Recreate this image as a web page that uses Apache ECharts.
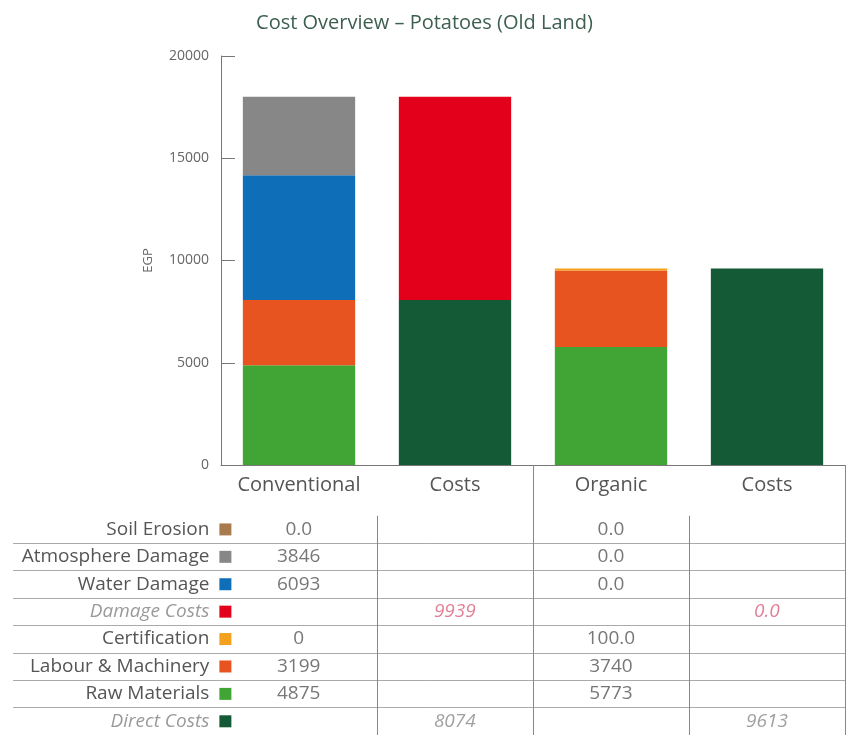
<!DOCTYPE html>
<html>
<head>
<meta charset="utf-8">
<script src="https://cdn.jsdelivr.net/npm/echarts@6/dist/echarts.min.js"></script>
<style>
  html, body { margin: 0; padding: 0; background: #fff; }
  #chart { width: 849px; height: 735px; }
</style>
</head>
<body>
<div id="chart"></div>
<script>
// bar categories
const categories = ['Conventional', 'Costs', 'Organic', 'Costs'];

// stacked series values (EGP), '-' where a series has no bar
const rawMaterials = [4875, '-', 5773, '-'];
const labour = [3199, '-', 3740, '-'];
const certification = [0, '-', 100, '-'];
const waterDamage = [6093, '-', 0, '-'];
const atmosphereDamage = [3846, '-', 0, '-'];
const soilErosion = [0, '-', 0, '-'];
const directCosts = ['-', 8074, '-', 9613];
const damageCosts = ['-', 9939, '-', 0];

// table below the chart
const rowNames = ['Soil Erosion', 'Atmosphere Damage', 'Water Damage', 'Damage Costs',
  'Certification', 'Labour & Machinery', 'Raw Materials', 'Direct Costs'];
const cellConventional = ['0.0', '3846', '6093', '', '0', '3199', '4875', ''];
const cellConvCosts = ['', '', '', '9939', '', '', '', '8074'];
const cellOrganic = ['0.0', '0.0', '0.0', '', '100.0', '3740', '5773', ''];
const cellOrgCosts = ['', '', '', '0.0', '', '', '', '9613'];

const colors = {
  'Soil Erosion': '#a87b4f',
  'Atmosphere Damage': '#878787',
  'Water Damage': '#0f6eb8',
  'Damage Costs': '#e2001a',
  'Certification': '#f4a11d',
  'Labour & Machinery': '#e7541f',
  'Raw Materials': '#40a535',
  'Direct Costs': '#145a36'
};
const totalRows = ['Damage Costs', 'Direct Costs'];
const FONT = '"Open Sans", sans-serif';

const chart = echarts.init(document.getElementById('chart'));

function barSeries(name, data) {
  return {
    name, type: 'bar', stack: 'total', data,
    barWidth: '72%',
    itemStyle: { color: colors[name] },
    xAxisIndex: 0, yAxisIndex: 0
  };
}

// row label + coloured square
const rowLabelData = rowNames.map((n, r) => ({
  value: [-0.47, r],
  itemStyle: { color: colors[n], opacity: 1 },
  label: totalRows.includes(n)
    ? { fontStyle: 'italic', color: '#9a9a9a' }
    : { color: '#555' }
}));

const cellColumns = [cellConventional, cellConvCosts, cellOrganic, cellOrgCosts];
const cellData = [];
cellColumns.forEach((col, c) => {
  col.forEach((txt, r) => {
    if (txt === '') return;
    const isTotal = totalRows.includes(rowNames[r]);
    cellData.push({
      value: [c, r, txt],
      label: isTotal
        ? { fontStyle: 'italic', color: rowNames[r] === 'Damage Costs' ? '#d9607c' : '#888' }
        : { color: '#555' }
    });
  });
});

const hLines = [];
for (let r = 0; r < rowNames.length - 1; r++) {
  hLines.push([{ coord: [-1.83, r + 0.5] }, { coord: [3.5, r + 0.5] }]);
}
const vLines = [
  [{ coord: [0.5, -0.5] }, { coord: [0.5, 7.5] }],
  [{ coord: [1.5, -2.35] }, { coord: [1.5, 7.5] }],
  [{ coord: [2.5, -0.5] }, { coord: [2.5, 7.5] }],
  [{ coord: [3.5, -2.35] }, { coord: [3.5, 7.5] }]
];

chart.setOption({
  animation: false,
  textStyle: { fontFamily: FONT },
  title: {
    text: 'Cost Overview – Potatoes (Old Land)',
    left: 'center', top: 8,
    textStyle: { fontFamily: FONT, fontWeight: 'normal', fontSize: 20, color: '#3d5f50' }
  },
  grid: [
    { left: 221, right: 4, top: 56, bottom: 270 },
    { left: 10, right: 4, top: 465, bottom: 0 }
  ],
  xAxis: [
    {
      type: 'category', data: categories, gridIndex: 0,
      axisLine: { lineStyle: { color: '#777' } },
      axisTick: { inside: true, length: 10, interval: 0, lineStyle: { color: '#777' } },
      axisLabel: {
        interval: 0, hideOverlap: false,
        fontSize: 20, color: '#555', margin: 10, fontFamily: FONT
      }
    },
    {
      type: 'value', gridIndex: 1, min: -1.85, max: 3.5, show: false
    }
  ],
  yAxis: [
    {
      type: 'value', gridIndex: 0, min: 0, max: 20000, interval: 5000,
      name: 'EGP', nameLocation: 'middle', nameGap: 66,
      nameTextStyle: { fontSize: 13, color: '#666', fontFamily: FONT },
      axisLine: { show: true, lineStyle: { color: '#777' } },
      axisTick: { show: true, inside: true, length: 14, lineStyle: { color: '#777' } },
      axisLabel: {
        fontSize: 14, color: '#666', margin: 12, fontFamily: FONT,
        formatter: v => String(v), padding: [6, 0, 0, 0]
      },
      splitLine: { show: false }
    },
    {
      type: 'value', gridIndex: 1, min: -2.35, max: 7.5, inverse: true, show: false
    }
  ],
  series: [
    barSeries('Raw Materials', rawMaterials),
    barSeries('Labour & Machinery', labour),
    barSeries('Certification', certification),
    barSeries('Water Damage', waterDamage),
    barSeries('Atmosphere Damage', atmosphereDamage),
    barSeries('Soil Erosion', soilErosion),
    barSeries('Direct Costs', directCosts),
    barSeries('Damage Costs', damageCosts),
    {
      type: 'scatter', xAxisIndex: 1, yAxisIndex: 1, clip: false, silent: true,
      symbol: 'rect', symbolSize: 12,
      data: rowLabelData,
      label: {
        show: true, position: 'left', distance: 10,
        fontSize: 19, fontFamily: FONT,
        formatter: p => rowNames[p.value[1]]
      },
      markLine: {
        silent: true, symbol: 'none', animation: false,
        label: { show: false },
        lineStyle: { color: '#aaa', width: 1, type: 'solid' },
        data: hLines
      }
    },
    {
      type: 'scatter', xAxisIndex: 1, yAxisIndex: 1, clip: false, silent: true,
      symbolSize: 0,
      data: cellData,
      label: {
        show: true, position: 'inside',
        fontSize: 19, fontFamily: FONT,
        formatter: p => p.value[2]
      },
      markLine: {
        silent: true, symbol: 'none', animation: false,
        label: { show: false },
        lineStyle: { color: '#888', width: 1, type: 'solid' },
        data: vLines
      }
    }
  ]
});
</script>
</body>
</html>
